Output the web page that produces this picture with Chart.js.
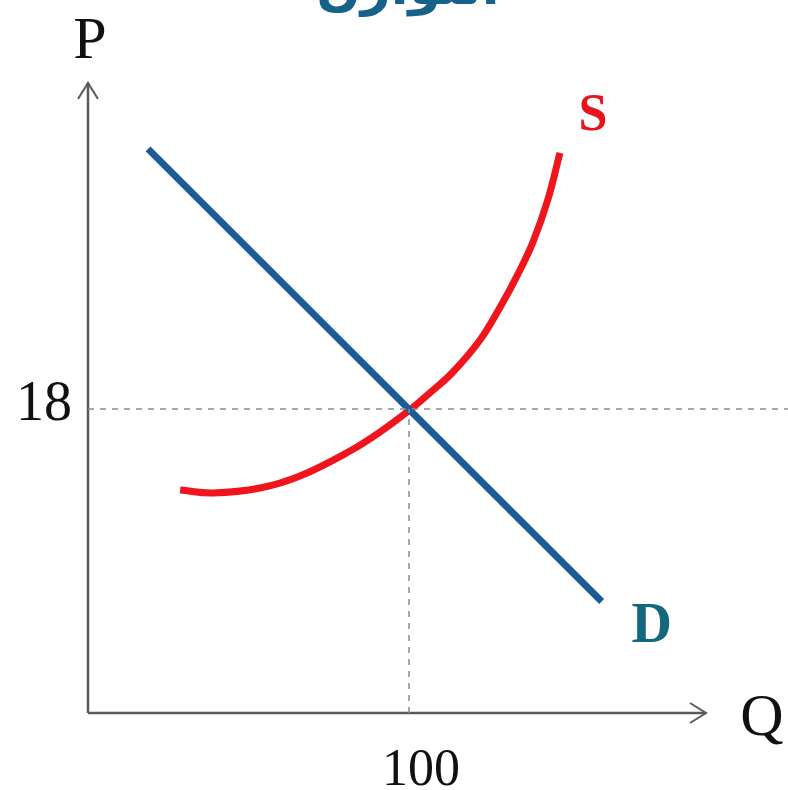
<!DOCTYPE html>
<html>
<head>
<meta charset="utf-8">
<script src="https://cdn.jsdelivr.net/npm/chart.js@4"></script>
<style>
  html, body { margin: 0; padding: 0; background: #fff; }
  #wrap { width: 788px; height: 790px; position: relative; }
</style>
</head>
<body>
<div id="wrap"><canvas id="market"></canvas></div>
<script>
const ctx = document.getElementById('market');

// values (Q = quantity, P = price)
const demandQ = [18.7, 160];
const demandP = [33.4, 6.6];
const supplyQ = [28.7, 38.9, 53.6, 66.0, 81.6, 91.0, 100.6, 106.5, 113.7, 122.1, 128.4, 133.6, 138.6, 143.3, 147.0];
const supplyP = [13.2, 13.03, 13.32, 14.03, 15.51, 16.64, 18.0, 18.95, 20.19, 22.08, 24.04, 25.87, 27.88, 30.43, 33.16];
const eqQ = 100;
const eqP = 18;
const tickLabels = ['18', '100'];
const titleText = 'التوازن';

const xMax = 192.5;
const yMax = 37.3;

function pts(xs, ys) {
    return xs.map((x, i) => ({ x: x, y: ys[i] }));
}

// axes, arrows and texts
const sketch = {
    id: 'sketch',
    beforeDatasetsDraw(chart) {
        const c = chart.ctx;
        const xs = chart.scales.x, ys = chart.scales.y;
        const x0 = xs.getPixelForValue(0), y0 = ys.getPixelForValue(0);
        const xEnd = xs.getPixelForValue(xMax), yEnd = ys.getPixelForValue(yMax);
        c.save();
        c.strokeStyle = '#5a5a5a';
        c.lineWidth = 2.5;
        c.beginPath();
        c.moveTo(x0, y0); c.lineTo(x0, yEnd);
        c.moveTo(x0, y0); c.lineTo(xEnd, y0);
        c.stroke();
        c.lineWidth = 2;
        c.beginPath();
        c.moveTo(x0 - 10, yEnd + 16); c.lineTo(x0, yEnd); c.lineTo(x0 + 10, yEnd + 16);
        c.moveTo(xEnd - 16, y0 - 10); c.lineTo(xEnd, y0); c.lineTo(xEnd - 16, y0 + 10);
        c.stroke();
        c.restore();
    },
    afterDatasetsDraw(chart) {
        const c = chart.ctx;
        const xs = chart.scales.x, ys = chart.scales.y;
        const x0 = xs.getPixelForValue(0), y0 = ys.getPixelForValue(0);
        c.save();
        c.fillStyle = '#111';
        c.textAlign = 'center';
        c.textBaseline = 'middle';
        c.font = '56px "Liberation Serif", serif';
        c.fillText(tickLabels[0], x0 - 44, ys.getPixelForValue(eqP) - 4);
        c.font = '52px "Liberation Serif", serif';
        c.fillText(tickLabels[1], xs.getPixelForValue(eqQ) + 12, y0 + 58);
        c.font = '60px "Liberation Serif", serif';
        c.fillText('P', x0 + 2, 42);
        c.fillText('Q', xs.getPixelForValue(xMax) + 56, y0 + 6);

        c.font = 'bold 52px "Liberation Serif", serif';
        c.fillStyle = '#e8131d';
        const sl = supplyQ.length - 1;
        c.fillText('S', xs.getPixelForValue(supplyQ[sl]) + 33, ys.getPixelForValue(supplyP[sl]) - 36);
        c.font = 'bold 56px "Liberation Serif", serif';
        c.fillStyle = '#14687c';
        c.fillText('D', xs.getPixelForValue(demandQ[1]) + 50, ys.getPixelForValue(demandP[1]) + 26);

        c.font = 'bold 52px "DejaVu Sans", sans-serif';
        c.fillStyle = '#17628a';
        c.textBaseline = 'alphabetic';
        c.fillText(titleText, 408, 4);
        c.restore();
    }
};

new Chart(ctx, {
    type: 'scatter',
    data: {
        datasets: [
            {
                label: 'guide P',
                data: pts([0, 218], [eqP, eqP]),
                showLine: true,
                borderColor: '#8a8a8a',
                borderWidth: 1.5,
                borderDash: [6, 6],
                pointRadius: 0,
                clip: false
            },
            {
                label: 'guide Q',
                data: pts([eqQ, eqQ], [0, eqP]),
                showLine: true,
                borderColor: '#8a8a8a',
                borderWidth: 1.5,
                borderDash: [6, 6],
                pointRadius: 0
            },
            {
                label: 'D',
                data: pts(demandQ, demandP),
                showLine: true,
                borderColor: '#1d5a98',
                borderWidth: 7,
                pointRadius: 0,
                borderCapStyle: 'butt'
            },
            {
                label: 'S',
                data: pts(supplyQ, supplyP),
                showLine: true,
                borderColor: '#f0141c',
                borderWidth: 7,
                pointRadius: 0,
                tension: 0.4,
                borderCapStyle: 'butt'
            }
        ]
    },
    options: {
        responsive: true,
        maintainAspectRatio: false,
        animation: false,
        events: [],
        layout: { padding: { left: 88, right: 82, top: 83, bottom: 77 } },
        plugins: { legend: { display: false }, tooltip: { enabled: false } },
        scales: {
            x: { type: 'linear', min: 0, max: xMax, display: false },
            y: { type: 'linear', min: 0, max: yMax, display: false }
        }
    },
    plugins: [sketch]
});
</script>
</body>
</html>
